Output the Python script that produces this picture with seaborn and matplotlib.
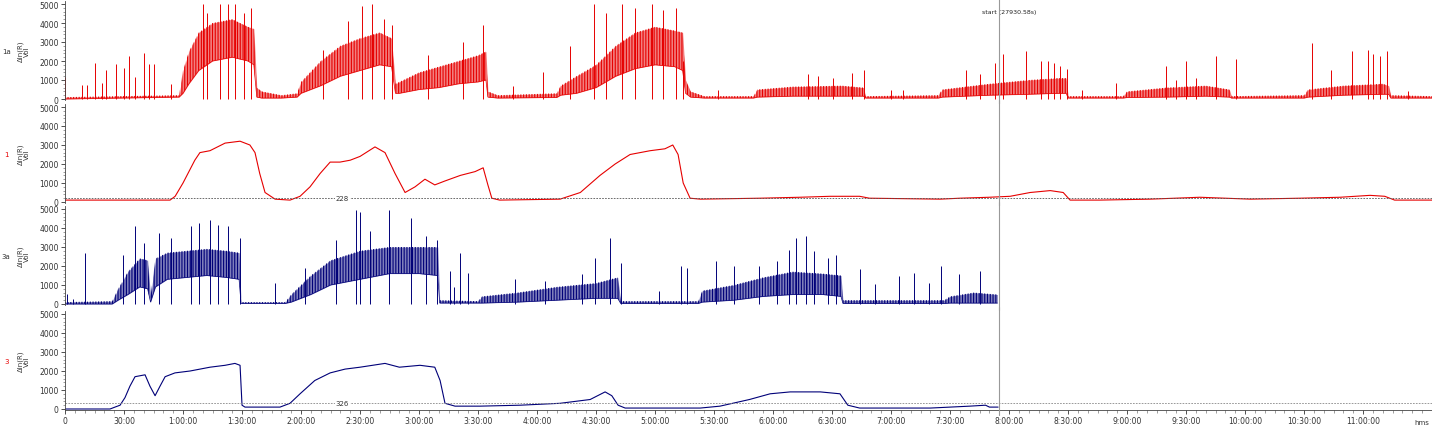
import numpy as np
import pandas as pd
import matplotlib
matplotlib.use("Agg")
import matplotlib.pyplot as plt
from matplotlib.ticker import MultipleLocator, FixedLocator, FuncFormatter
import seaborn as sns

# --------------------------------
# DATA (time in minutes, values in Vol)
# --------------------------------

# panel 1a : noisy red trace -> band (lo / hi) + single spikes
band1_t = [0, 58, 60, 63, 68, 75, 85, 93, 96, 97.5, 100, 110, 118,
           120, 130, 140, 150, 160, 166, 168,
           170, 180, 190, 200, 210, 214, 215, 220, 250,
           252, 260, 270, 280, 290, 300, 310, 314, 315.5, 318, 325, 350,
           352, 370, 395, 406, 407, 444,
           446, 470, 490, 505, 509, 510, 538,
           540, 560, 580, 592, 593, 630,
           632, 650, 670, 673, 674, 695]
band1_lo = [0, 100, 300, 800, 1500, 2000, 2200, 2000, 1800, 100, 50, 50, 100,
            300, 700, 1200, 1500, 1800, 1700, 300,
            300, 500, 600, 800, 900, 1000, 100, 50, 80,
            200, 300, 600, 1200, 1600, 1800, 1700, 1500, 300, 100, 50, 50,
            100, 150, 150, 150, 50, 50,
            100, 200, 250, 300, 300, 50, 50,
            80, 100, 150, 100, 50, 50,
            100, 200, 250, 250, 50, 50]
band1_hi = [100, 200, 1500, 2500, 3500, 4000, 4200, 3800, 3700, 600, 400, 200, 300,
            900, 2000, 2800, 3200, 3500, 3200, 800,
            900, 1400, 1700, 2000, 2300, 2500, 400, 200, 300,
            700, 1200, 1800, 2800, 3500, 3800, 3600, 3500, 1000, 400, 150, 150,
            500, 650, 700, 600, 150, 200,
            500, 800, 1000, 1100, 1100, 150, 150,
            400, 600, 700, 500, 150, 200,
            500, 700, 800, 700, 200, 150]
spike1_t = [0, 8.5, 11, 15.5, 19, 21, 26, 30, 32.5, 35.5, 40, 42.5, 45, 54,
            70, 72, 79, 83, 86.5, 91, 94.5,
            131, 144, 151, 156, 162, 166,
            184.5, 202.5, 212.6,
            228, 243, 257, 269, 275, 283, 289.6, 298.5, 304, 310.7, 314, 332,
            377.6, 383, 390.5, 400, 406, 420, 426,
            458, 465, 473, 477, 488.8, 496, 500, 503, 506, 509.6,
            517, 534.4, 560, 565, 570, 575, 585, 595.5,
            634, 643.8, 654.4, 662.6, 665, 668.7, 672, 683]
spike1_v = [1150, 760, 760, 1900, 850, 1550, 1820, 1640, 2260, 1150, 2440, 1850, 1820, 800,
            5000, 4550, 5000, 5000, 5000, 4550, 4800,
            2600, 4100, 4900, 5000, 4200, 3900,
            2300, 3000, 3900,
            670, 1400, 2800, 5000, 4550, 5000, 4800, 5000, 4700, 4800, 2000, 500,
            1290, 1200, 1110, 1380, 1550, 500, 500,
            1550, 1300, 1900, 2350, 2530, 2000, 2000, 1900, 1730, 1600,
            500, 850, 1730, 1020, 2000, 1100, 2260, 2080,
            2970, 1550, 2530, 2600, 2350, 2260, 2530, 400]

# panel 1 : smoothed red trace
smooth1_t = [0, 53.4, 56, 60, 66, 68.6, 73.7, 81.4, 89, 94, 96.6, 99, 101.7, 106.8, 114.4,
             119.5, 124.6, 129.7, 134.8, 139.8, 145, 150, 157.6, 162.7, 167.8, 172.9,
             178, 183, 188, 193, 201, 208.5, 212.6, 215, 217, 221, 251.7,
             262, 272, 279.7, 287.3, 297.5, 305, 309, 311.7, 314.3, 317.8, 323,
             353.4, 373.7, 389, 404, 409, 445, 455, 470, 480.5, 490.7, 500.9, 507.5,
             511, 526, 551.7, 577, 602.6, 628, 648.3, 663.5, 671, 676, 695]
smooth1_v = [100, 100, 300, 1000, 2200, 2600, 2700, 3100, 3200, 3000, 2600, 1500, 500, 150, 100,
             300, 800, 1500, 2100, 2100, 2200, 2400, 2900, 2600, 1500, 500,
             800, 1200, 900, 1100, 1400, 1600, 1800, 900, 200, 100, 150,
             500, 1400, 2000, 2500, 2700, 2800, 3000, 2500, 1000, 200, 150,
             200, 250, 300, 300, 200, 150, 200, 250, 300, 500, 600, 500,
             100, 100, 150, 250, 150, 200, 250, 350, 300, 100, 100]
level1 = 228

# panel 3a : noisy blue trace
band3_t = [0, 24, 27, 32, 38, 42, 43.5, 46, 52, 62, 72, 82, 88.5, 89.5, 112,
           115, 125, 135, 150, 165, 180, 189.5, 190.5, 210,
           212, 230, 250, 270, 281, 282.5, 322,
           324, 340, 355, 370, 385, 394.5, 395.5, 447,
           450, 462, 474]
band3_lo = [0, 0, 200, 500, 900, 800, 100, 900, 1300, 1400, 1500, 1400, 1300, 30, 30,
            100, 500, 1000, 1300, 1600, 1600, 1500, 50, 50,
            50, 100, 200, 300, 300, 30, 30,
            100, 200, 400, 500, 500, 400, 30, 30,
            50, 50, 50]
band3_hi = [100, 150, 800, 1700, 2400, 2300, 400, 2400, 2700, 2800, 2900, 2800, 2700, 100, 100,
            500, 1500, 2300, 2800, 3000, 3000, 3000, 200, 150,
            400, 600, 900, 1100, 1400, 150, 150,
            700, 1000, 1400, 1700, 1600, 1500, 200, 200,
            400, 600, 500]
spike3_t = [1, 4, 10, 29.5, 35.6, 40, 47.8, 53.9, 64, 68, 73.7, 78, 83, 89,
            106.8, 121.8, 138, 147.8, 150, 155, 164.7, 176, 183.4, 189,
            195.6, 198, 201, 204.8, 229, 244, 262.7, 269.5, 277, 282.5,
            302, 313, 316, 331, 340, 352.6, 361.8, 367.9, 371.8, 376.8, 380.9, 387.7, 392,
            404, 412, 424, 431.7, 439.4, 445.5, 454.6, 465]
spike3_v = [520, 260, 2700, 2600, 4080, 3200, 3730, 3470, 4080, 4250, 4430, 4170, 4080, 3470,
            1130, 1900, 3390, 4950, 4860, 3820, 4950, 4510, 3560, 3390,
            1740, 900, 2700, 1650, 1300, 1200, 1560, 2430, 3470, 2170,
            700, 2000, 1900, 2260, 2000, 2000, 2260, 2860, 3470, 3560, 2780, 2430, 2600,
            1820, 1040, 1470, 1650, 1130, 2000, 1560, 1740]

# panel 3 : smoothed blue trace
smooth3_t = [0, 22.9, 25.4, 28, 30.5, 33, 35.6, 40.7, 43.2, 45.8, 48.3, 50.9, 55.9, 63.6,
             73.7, 81.4, 86.4, 89, 90, 91.5, 109.3, 114.4, 119.5, 127, 134.8, 142.4,
             150, 162.7, 170, 180.5, 188, 190.7, 193.2, 198.3, 211, 231.4, 251.7,
             267, 274.6, 278, 281.2, 284.8, 323, 333, 348, 358.5, 368.7, 384, 394,
             398, 404, 440, 460, 468, 470, 474.4]
smooth3_v = [0, 0, 100, 200, 600, 1200, 1700, 1800, 1200, 700, 1200, 1700, 1900, 2000,
             2200, 2300, 2400, 2300, 200, 100, 100, 300, 800, 1500, 1900, 2100,
             2200, 2400, 2200, 2300, 2200, 1500, 300, 150, 150, 200, 300,
             500, 900, 700, 200, 50, 50, 150, 500, 800, 900, 900, 800,
             200, 50, 50, 150, 200, 100, 100]
level3 = 326

start_t = 475
panel_names = ["1a", "1", "3a", "3"]

# --------------------------------
# FIGURE
# --------------------------------

sns.set_style("ticks")
plt.rcParams["font.family"] = ["DejaVu Sans"]
plt.rcParams["hatch.linewidth"] = 0.8

RED = "#e60000"
BLUE = "#000078"

fig = plt.figure(figsize=(14.32, 4.27), dpi=100)

W, H = 1432, 427
left = 65 / W
zero_px = [100, 203, 305, 410]
ylo, yhi = -60, 5150
px_per_unit = 0.019
axes = []
for z in zero_px:
    h = (yhi - ylo) * px_per_unit
    bottom = z + (0 - ylo) * px_per_unit
    ax = fig.add_axes([left, 1 - bottom / H, 1 - left, h / H])
    axes.append(ax)


def fmt_time(m, pos):
    m = int(round(m))
    if m == 0:
        return "0"
    h, mm = divmod(m, 60)
    if h == 0:
        return f"{mm}:00"
    return f"{h}:{mm:02d}:00"


def noisy(ax, bt, blo, bhi, st, sv, color):
    # dense noise drawn as a hatched band, isolated spikes as thin lines
    ax.fill_between(bt, blo, bhi, facecolor=color, alpha=0.5, lw=0)
    ax.fill_between(bt, blo, bhi, facecolor="none", edgecolor=color,
                    hatch="||||||", lw=0)
    ax.plot(bt, blo, color=color, lw=0.5)
    ax.vlines(st, 0, sv, color=color, lw=0.7)


def smooth(ax, t, v, color):
    d = pd.DataFrame({"t": t, "v": v})
    sns.lineplot(data=d, x="t", y="v", ax=ax, color=color, lw=0.8, estimator=None)


noisy(axes[0], band1_t, band1_lo, band1_hi, spike1_t, spike1_v, RED)
smooth(axes[1], smooth1_t, smooth1_v, RED)
noisy(axes[2], band3_t, band3_lo, band3_hi, spike3_t, spike3_v, BLUE)
smooth(axes[3], smooth3_t, smooth3_v, BLUE)

# threshold lines
for ax, lev, col in [(axes[1], level1, "#555555"), (axes[3], level3, "#888888")]:
    ax.axhline(lev, color=col, lw=0.6, ls=(0, (2, 1.5)))
    ax.text(141, lev, str(lev), fontsize=5, ha="center", va="center",
            color="#333333", bbox=dict(fc="white", ec="none", pad=0.5))

label_colors = ["#333333", RED, "#333333", RED]
for i, ax in enumerate(axes):
    ax.set_xlim(0, 695)
    ax.set_ylim(ylo, yhi)
    ax.yaxis.set_major_locator(MultipleLocator(1000))
    ax.yaxis.set_minor_locator(MultipleLocator(200))
    ax.tick_params(axis="y", which="major", labelsize=5.5, length=3, width=0.6,
                   colors="#333333", pad=1.5)
    ax.tick_params(axis="y", which="minor", length=1.5, width=0.4, colors="#555555")
    ax.set_xlabel("")
    ax.set_ylabel("Δln(R)\nVol", fontsize=5, color="#333333", labelpad=4, linespacing=0.9)
    ax.yaxis.set_label_coords(-0.026, 0.5)
    for s in ["top", "right"]:
        ax.spines[s].set_visible(False)
    ax.spines["left"].set_linewidth(0.6)
    ax.spines["left"].set_color("#444444")
    ax.text(-0.043, 0.5, panel_names[i], transform=ax.transAxes, fontsize=5,
            color=label_colors[i], ha="center", va="center")
    ext = 0.045
    ax.axvline(start_t, ymin=-ext, ymax=1 + (0.02 if i == 0 else ext),
               color="#999999", lw=0.8, clip_on=False, zorder=5)
    if i < 3:
        ax.spines["bottom"].set_visible(False)
        ax.tick_params(axis="x", which="both", bottom=False, labelbottom=False)

axb = axes[3]
axb.spines["bottom"].set_linewidth(0.6)
axb.spines["bottom"].set_color("#444444")
axb.xaxis.set_major_locator(FixedLocator(list(range(0, 661, 30))))
axb.xaxis.set_minor_locator(MultipleLocator(5))
axb.xaxis.set_major_formatter(FuncFormatter(fmt_time))
axb.tick_params(axis="x", which="major", labelsize=5.5, length=3, width=0.6,
                colors="#333333", pad=1.5)
axb.tick_params(axis="x", which="minor", length=1.8, width=0.4, colors="#555555")

axes[0].text(start_t + 5, 0.9, "start (27930.58s)", transform=axes[0].get_xaxis_transform(),
             fontsize=4.5, ha="center", va="center", color="#222222")
fig.text(1422 / W, 1 - 423 / H, "hms", fontsize=5, color="#333333", ha="center", va="center")

fig.savefig("out.png", dpi=100)
